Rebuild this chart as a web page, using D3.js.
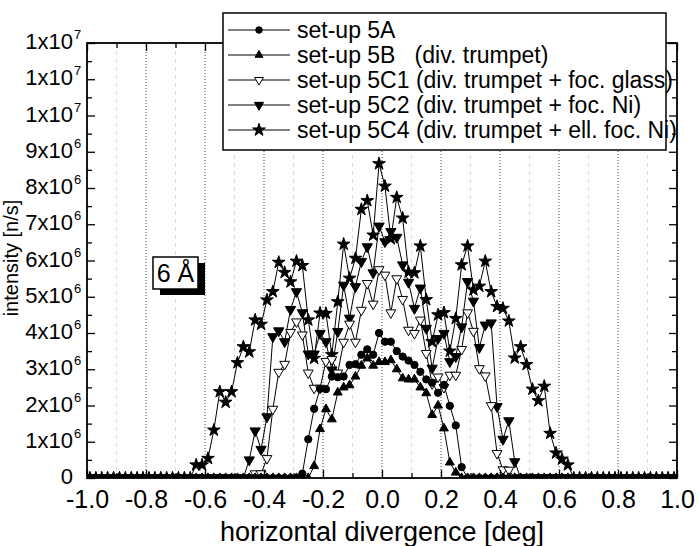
<!DOCTYPE html>
<html><head><meta charset="utf-8">
<script src="https://cdn.jsdelivr.net/npm/d3@7"></script>
<style>
body{margin:0;background:#fff}
svg{display:block}
text{font-family:"Liberation Sans",Arial,Helvetica,sans-serif;fill:#000}
</style>
</head><body>
<svg id="c" width="700" height="546"></svg>
<script>
// ---------- data (intensity in units of 10^6 n/s) ----------
const divergence = [-0.99,-0.97,-0.95,-0.93,-0.91,-0.89,-0.87,-0.85,-0.83,-0.81,-0.79,-0.77,-0.75,-0.73,-0.71,-0.69,-0.67,-0.65,-0.63,-0.61,-0.59,-0.57,-0.55,-0.53,-0.51,-0.49,-0.47,-0.45,-0.43,-0.41,-0.39,-0.37,-0.35,-0.33,-0.31,-0.29,-0.27,-0.25,-0.23,-0.21,-0.19,-0.17,-0.15,-0.13,-0.11,-0.09,-0.07,-0.05,-0.03,-0.01,
0.01,0.03,0.05,0.07,0.09,0.11,0.13,0.15,0.17,0.19,0.21,0.23,0.25,0.27,0.29,0.31,0.33,0.35,0.37,0.39,0.41,0.43,0.45,0.47,0.49,0.51,0.53,0.55,0.57,0.59,0.61,0.63,0.65,0.67,0.69,0.71,0.73,0.75,0.77,0.79,0.81,0.83,0.85,0.87,0.89,0.91,0.93,0.95,0.97,0.99];

const setup5A = [0,0,0,0,0,0,0,0,0,0,0,0,0,0,0,0,0,0,0,0,0,0,0,0,0,0,0,0,0,0,0,0,0,0,0,0,
0.12,1.07,1.91,2.46,2.45,2.8,2.78,2.8,3.12,3.14,3.4,3.55,3.4,4.0,
3.76,3.76,3.5,3.35,3.24,3.12,2.93,2.72,2.63,2.35,2.57,1.99,1.45,0.3,
0,0,0,0,0,0,0,0,0,0,0,0,0,0,0,0,0,0,0,0,0,0,0,0,0,0,0,0,0,0,0,0,0,0,0,0];

const setup5B = [0,0,0,0,0,0,0,0,0,0,0,0,0,0,0,0,0,0,0,0,0,0,0,0,0,0,0,0,0,0,0,0,0,0,0,0,0,0,
0.33,1.35,1.9,1.62,2.36,2.5,2.56,2.8,3.1,3.3,3.1,3.2,
3.2,3.25,3.0,2.75,2.72,2.72,2.5,2.34,1.74,2.0,1.37,0.43,0.15,
0,0,0,0,0,0,0,0,0,0,0,0,0,0,0,0,0,0,0,0,0,0,0,0,0,0,0,0,0,0,0,0,0,0,0,0,0];

const setup5C1 = [0,0,0,0,0,0,0,0,0,0,0,0,0,0,0,0,0,0,0,0,0,0,0,0,0,0,0,0,
0.12,0.12,0.54,1.9,2.92,3.14,4.02,4.31,3.95,2.9,2.48,2.48,3.22,3.27,2.9,3.75,4.25,3.75,4.63,5.37,4.8,5.75,
5.6,4.56,5.5,4.93,4.08,3.99,4.36,3.44,2.6,2.79,2.5,2.84,2.84,3.55,4.56,4.05,3.02,2.82,2.0,0.68,0.23,0.22,
0,0,0,0,0,0,0,0,0,0,0,0,0,0,0,0,0,0,0,0,0,0,0,0,0,0,0,0];

const setup5C2 = [0,0,0,0,0,0,0,0,0,0,0,0,0,0,0,0,0,0,0,0,0,0,0,0,0,0,0,
0.5,1.3,0.79,1.69,3.9,4.06,3.76,4.65,5.14,4.56,3.42,3.42,3.99,3.76,2.98,4.04,5.32,4.41,5.28,5.97,6.38,5.66,6.95,
6.52,6.8,6.64,5.88,5.4,4.68,5.24,4.13,3.03,3.85,3.99,3.21,3.35,4.17,5.42,4.88,3.6,4.22,4.28,1.97,1.07,1.58,0.45,
0,0,0,0,0,0,0,0,0,0,0,0,0,0,0,0,0,0,0,0,0,0,0,0,0,0,0];

const setup5C4 = [0,0,0,0,0,0,0,0,0,0,0,0,0,0,0,0,0,0,
0.36,0.36,0.54,1.32,2.38,2.09,2.38,3.18,3.62,3.48,4.36,4.24,4.91,5.14,5.95,5.67,5.41,5.98,5.86,4.36,3.3,4.55,4.54,3.4,4.86,6.45,5.51,6.06,7.41,7.65,6.7,8.67,
8.05,6.6,7.74,7.17,5.68,5.66,6.4,4.92,3.76,4.5,4.56,3.5,4.4,5.88,6.4,5.19,5.29,5.98,5.14,4.73,4.68,4.33,3.31,3.62,3.13,2.45,2.13,2.53,1.23,0.69,0.52,0.36,
0,0,0,0,0,0,0,0,0,0,0,0,0,0,0,0,0,0];

const seriesNames = ["set-up 5A","set-up 5B   (div. trumpet)","set-up 5C1 (div. trumpet + foc. glass)","set-up 5C2 (div. trumpet + foc. Ni)","set-up 5C4 (div. trumpet + ell. foc. Ni)"];
const seriesKeys = ["5A","5B","5C1","5C2","5C4"];
const seriesValues = [setup5A, setup5B, setup5C1, setup5C2, setup5C4];

const xTicks = [-1,-0.8,-0.6,-0.4,-0.2,0,0.2,0.4,0.6,0.8,1];
const xTickLabels = ["-1.0","-0.8","-0.6","-0.4","-0.2","0.0","0.2","0.4","0.6","0.8","1.0"];
const xMinorTicks = [-0.9,-0.7,-0.5,-0.3,-0.1,0.1,0.3,0.5,0.7,0.9];
const yTicks = [0,1,2,3,4,5,6,7,8,9,10,11,12];
const yTickBase = ["0","1x10","2x10","3x10","4x10","5x10","6x10","7x10","8x10","9x10","1x10","1x10","1x10"];
const yTickExp = ["","6","6","6","6","6","6","6","6","6","7","7","7"];
const yMinorTicks = [0.5,1.5,2.5,3.5,4.5,5.5,6.5,7.5,8.5,9.5,10.5,11.5];
const xTitle = "horizontal divergence [deg]";
const yTitle = "intensity [n/s]";
const annotation = "6 Å";

// ---------- layout ----------
const L = 87, R = 677, T = 43, B = 478;
const x = d3.scaleLinear([-1, 1], [L, R]);
const y = d3.scaleLinear([0, 12], [B, T]);
const svg = d3.select("#c");

svg.append("defs").append("clipPath").attr("id","plot")
  .append("rect").attr("x",L).attr("y",T).attr("width",R-L).attr("height",B-T);

// grid
svg.append("g").selectAll("line").data(xMinorTicks).join("line")
  .attr("x1",d=>x(d)).attr("x2",d=>x(d)).attr("y1",T).attr("y2",B)
  .attr("stroke","#dcdcdc").attr("stroke-width",1).attr("stroke-dasharray","4,4");
svg.append("g").selectAll("line").data(xTicks.slice(1,-1)).join("line")
  .attr("x1",d=>x(d)).attr("x2",d=>x(d)).attr("y1",T).attr("y2",B)
  .attr("stroke","#444").attr("stroke-width",1).attr("stroke-dasharray","1,2");

// symbols
function symbolPath(key, small) {
  const k = small ? 0.8 : 1;
  if (key === "5A") return d3.symbol(d3.symbolCircle, 42*k)();
  if (key === "5B") return d3.symbol(d3.symbolTriangle, 34*k)();
  if (key === "5C1") return d3.symbol(d3.symbolTriangle, 42*k)();
  if (key === "5C2") return d3.symbol(d3.symbolTriangle, 46*k)();
  return d3.symbol(d3.symbolStar, 50)();
}
function symbolRot(key){ return (key==="5C1"||key==="5C2") ? " rotate(180)" : ""; }
function symbolFill(key){ return key==="5C1" ? "#fff" : "#000"; }

const plotG = svg.append("g").attr("clip-path","url(#plot)");
const line = d3.line().x(d=>x(d[0])).y(d=>y(d[1]));
const drawOrder = [4,3,2,1,0];
drawOrder.forEach(si => {
  const key = seriesKeys[si];
  const pts = divergence.map((d,i)=>[d, seriesValues[si][i]]);
  plotG.append("path").datum(pts).attr("d", line)
    .attr("fill","none").attr("stroke","#000").attr("stroke-width",1);
  plotG.append("g").selectAll("path").data(pts).join("path")
    .attr("d", symbolPath(key,false))
    .attr("transform", d=>`translate(${x(d[0])},${y(d[1])})${symbolRot(key)}`)
    .attr("fill", symbolFill(key)).attr("stroke","#000").attr("stroke-width",1);
});

// axes (ticks inward)
const axB = d3.axisBottom(x).tickValues(xTicks).tickSizeInner(-8).tickSizeOuter(0).tickPadding(12)
  .tickFormat((d,i)=>xTickLabels[i]);
const gB = svg.append("g").attr("transform",`translate(0,${B})`).call(axB);
gB.selectAll("text").attr("font-size",25).style("font-family",'"Liberation Sans",Arial,sans-serif');
svg.append("g").attr("transform",`translate(0,${B})`)
  .call(d3.axisBottom(x).tickValues(xMinorTicks).tickSizeInner(-5).tickSizeOuter(0).tickFormat(""));
svg.append("g").attr("transform",`translate(0,${T})`)
  .call(d3.axisTop(x).tickValues(xTicks).tickSizeInner(-8).tickSizeOuter(0).tickFormat(""));
svg.append("g").attr("transform",`translate(0,${T})`)
  .call(d3.axisTop(x).tickValues(xMinorTicks).tickSizeInner(-5).tickSizeOuter(0).tickFormat(""));

svg.append("g").attr("transform",`translate(${L},0)`)
  .call(d3.axisLeft(y).tickValues(yTicks).tickSizeInner(-8).tickSizeOuter(0).tickFormat(""));
svg.append("g").attr("transform",`translate(${L},0)`)
  .call(d3.axisLeft(y).tickValues(yMinorTicks).tickSizeInner(-5).tickSizeOuter(0).tickFormat(""));
svg.append("g").attr("transform",`translate(${R},0)`)
  .call(d3.axisRight(y).tickValues(yTicks).tickSizeInner(-8).tickSizeOuter(0).tickFormat(""));
svg.append("g").attr("transform",`translate(${R},0)`)
  .call(d3.axisRight(y).tickValues(yMinorTicks).tickSizeInner(-5).tickSizeOuter(0).tickFormat(""));
svg.selectAll(".domain").remove();
svg.selectAll(".tick line").attr("stroke","#000").attr("stroke-width",1.3);

// y tick labels with superscripts
const yl = svg.append("g");
yl.selectAll("text.b").data(yTicks).join("text").attr("class","b")
  .attr("x",73).attr("y",d=>y(d)+6).attr("text-anchor","end").attr("font-size",22)
  .text((d,i)=>yTickBase[i]);
yl.selectAll("text.e").data(yTicks).join("text").attr("class","e")
  .attr("x",74).attr("y",d=>y(d)-4).attr("font-size",13)
  .text((d,i)=>yTickExp[i]);

// frame
svg.append("rect").attr("x",L).attr("y",T).attr("width",R-L).attr("height",B-T)
  .attr("fill","none").attr("stroke","#000").attr("stroke-width",1.8);

// titles
svg.append("text").attr("x",(L+R)/2).attr("y",541).attr("text-anchor","middle")
  .attr("font-size",27).text(xTitle);
svg.append("text").attr("transform","translate(18,258) rotate(-90)").attr("text-anchor","middle")
  .attr("font-size",20).text(yTitle);

// 6 Å annotation box
svg.append("rect").attr("x",160).attr("y",263).attr("width",45).attr("height",32).attr("fill","#000");
svg.append("rect").attr("x",153).attr("y",257).attr("width",45).attr("height",32)
  .attr("fill","#fff").attr("stroke","#000").attr("stroke-width",1.5);
svg.append("text").attr("x",175.5).attr("y",282).attr("text-anchor","middle").attr("font-size",25).text(annotation);

// legend
const lg = svg.append("g");
lg.append("rect").attr("x",223).attr("y",13).attr("width",443).attr("height",137)
  .attr("fill","#fff").attr("stroke","#000").attr("stroke-width",1.5);
seriesNames.forEach((name,i)=>{
  const key = seriesKeys[i];
  const cy = 30 + i*25;
  lg.append("line").attr("x1",228).attr("x2",290).attr("y1",cy).attr("y2",cy)
    .attr("stroke","#000").attr("stroke-width",1);
  lg.append("path").attr("d",symbolPath(key,true))
    .attr("transform",`translate(259,${cy})${symbolRot(key)}`)
    .attr("fill",symbolFill(key)).attr("stroke","#000").attr("stroke-width",1);
  lg.append("text").attr("x",297).attr("y",cy+8).attr("font-size",23)
    .style("white-space","pre").text(name);
});
</script>
</body></html>
